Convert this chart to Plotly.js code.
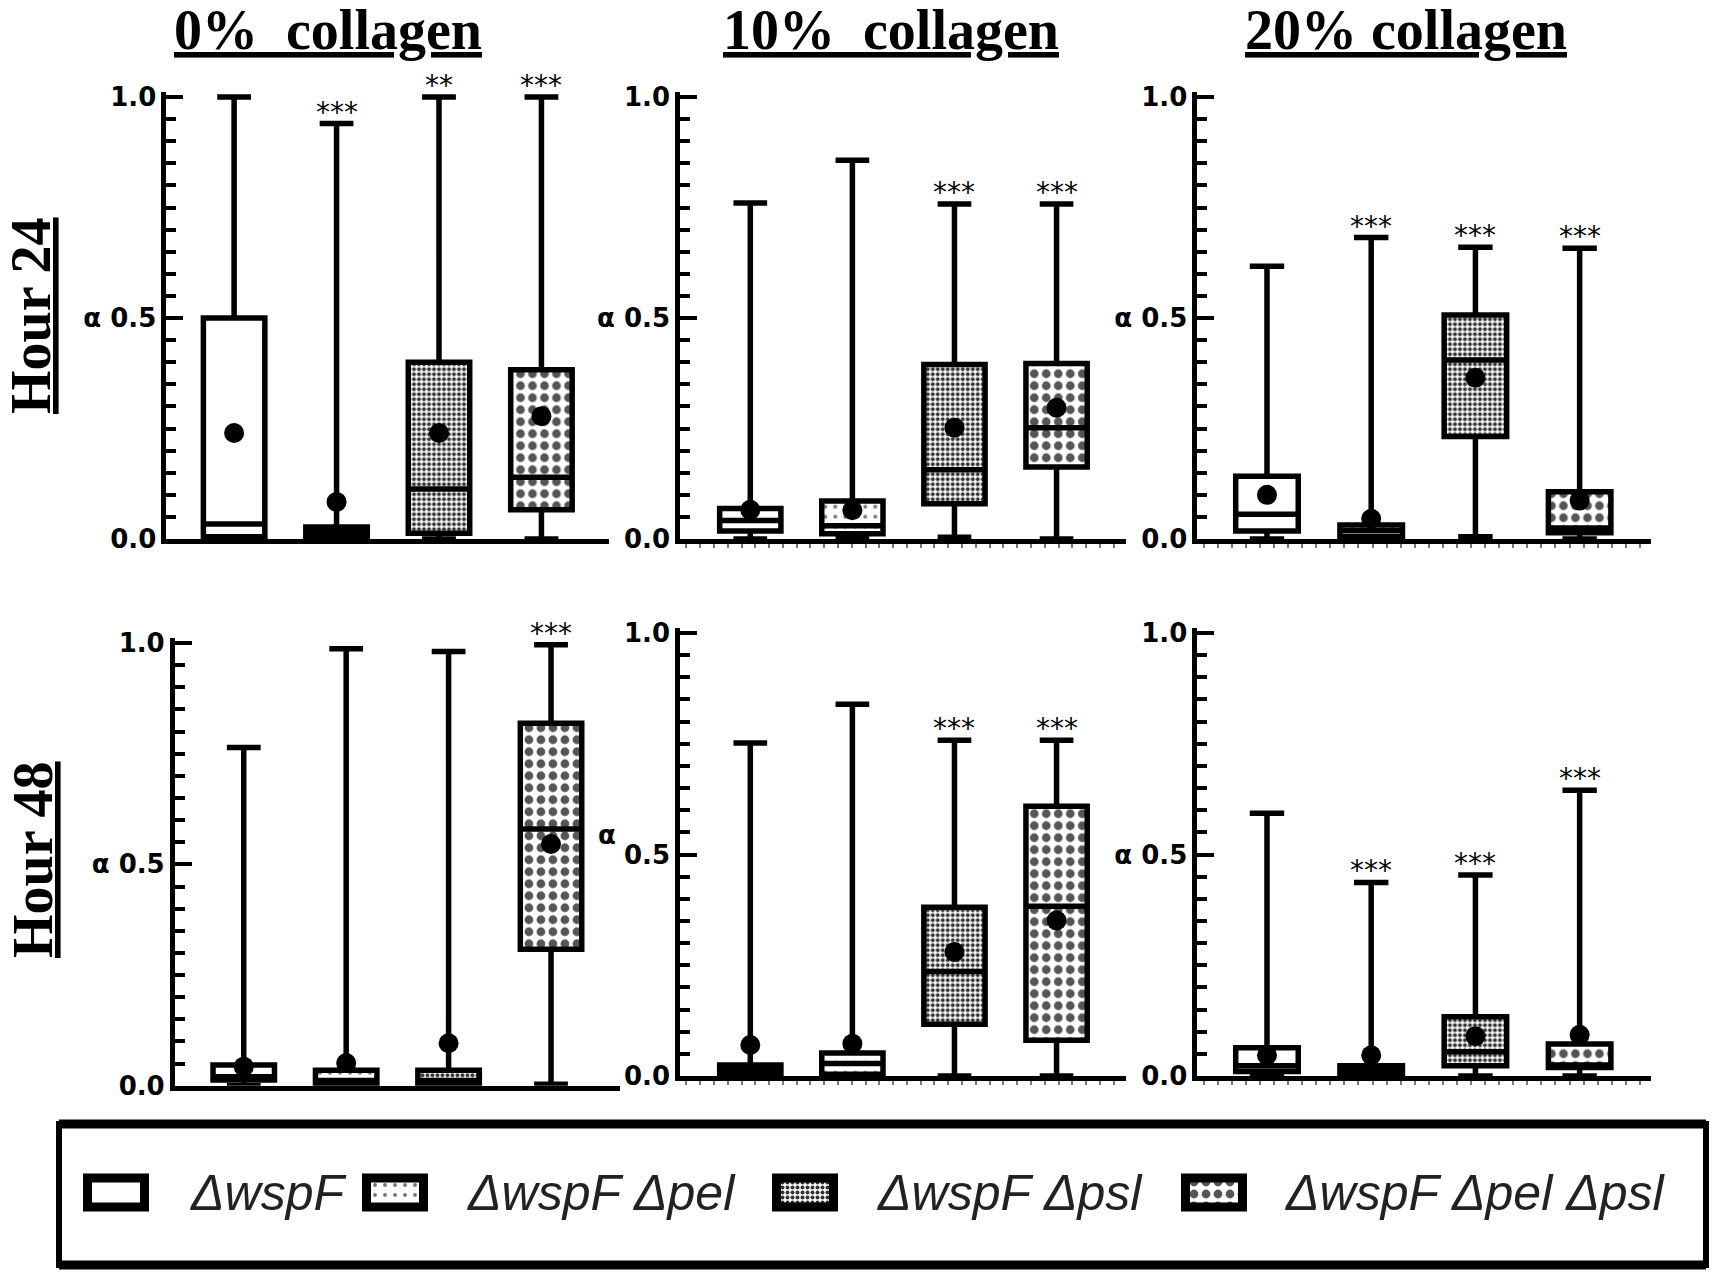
<!DOCTYPE html>
<html>
<head>
<meta charset="utf-8">
<script src="https://cdn.plot.ly/plotly-3.0.1.min.js"></script>
<style>
  html, body { margin: 0; padding: 0; background: #fff; }
  #chart { width: 1720px; height: 1274px; }
</style>
</head>
<body>
<div id="chart"></div>
<script>
// ---------------------------------------------------------------------------
// data (alpha values)
// ---------------------------------------------------------------------------
const strains = ['ΔwspF', 'ΔwspF Δpel', 'ΔwspF Δpsl', 'ΔwspF Δpel Δpsl'];
const collagenTitles = ['0%\u00a0 collagen', '10%\u00a0 collagen', '20% collagen'];
const hourLabels = ['Hour 24', 'Hour 48'];

// one row per panel: 24h 0%, 24h 10%, 24h 20%, 48h 0%, 48h 10%, 48h 20%
const lowerFence = [
    [0, 0, 0, 0],
    [0, 0, 0.004, 0],
    [0, 0, 0.005, 0],
    [0, 0, 0, 0.003],
    [0, 0, 0, 0],
    [0, 0, 0, 0]
];
const q1 = [
    [0.005, 0.004, 0.013, 0.066],
    [0.018, 0.012, 0.08, 0.163],
    [0.018, 0.005, 0.232, 0.014],
    [0.013, 0.005, 0.005, 0.308],
    [0.004, 0.004, 0.117, 0.081],
    [0.01, 0.003, 0.023, 0.019]
];
const median = [
    [0.034, 0.0155, 0.113, 0.14],
    [0.042, 0.03, 0.157, 0.252],
    [0.056, 0.0185, 0.405, 0.025],
    [0.02, 0.012, 0.012, 0.58],
    [0.0145, 0.028, 0.236, 0.383],
    [0.023, 0.013, 0.055, 0.025]
];
const q3 = [
    [0.5, 0.027, 0.40, 0.383],
    [0.069, 0.086, 0.395, 0.397],
    [0.142, 0.032, 0.507, 0.107],
    [0.047, 0.035, 0.035, 0.819],
    [0.025, 0.052, 0.381, 0.609],
    [0.064, 0.023, 0.134, 0.072]
];
const upperFence = [
    [1.0, 0.94, 1.0, 1.0],
    [0.76, 0.857, 0.758, 0.758],
    [0.617, 0.682, 0.66, 0.658],
    [0.764, 0.987, 0.981, 0.996],
    [0.752, 0.839, 0.758, 0.758],
    [0.593, 0.437, 0.454, 0.645]
];
const means = [
    [0.24, 0.084, 0.24, 0.278],
    [0.066, 0.065, 0.252, 0.297],
    [0.1, 0.046, 0.365, 0.087],
    [0.043, 0.051, 0.096, 0.546],
    [0.07, 0.073, 0.28, 0.351],
    [0.047, 0.047, 0.09, 0.093]
];
const stars = [
    ['', '***', '**', '***'],
    ['', '', '***', '***'],
    ['', '***', '***', '***'],
    ['', '', '', '***'],
    ['', '', '***', '***'],
    ['', '***', '***', '***']
];

// ---------------------------------------------------------------------------
// styles / geometry
// ---------------------------------------------------------------------------
const W = 1720, H = 1274;
const xDomains = [[0.0968, 0.3541], [0.3955, 0.6547], [0.6962, 0.9596],
                  [0.1017, 0.3605], [0.3955, 0.6547], [0.6962, 0.9596]];
const xRanges = [[-0.66, 3.66], [-0.686, 3.681], [-0.667, 3.68],
                 [-0.672, 3.674], [-0.686, 3.681], [-0.667, 3.68]];
const yDomains = [[0.5769, 0.9280], [0.5769, 0.9280], [0.5769, 0.9280],
                  [0.1478, 0.4994], [0.1554, 0.5073], [0.1554, 0.5073]];

const patShape = ['', '.', '.', '.'];
const patSize = [8, 10, 5, 12];
const patSolid = [0.1, 0.12, 0.5, 0.42];
const patFg = ['#ffffff', '#777777', '#333333', '#555555'];

const tickFont = { family: 'DejaVu Sans', size: 26, weight: 'bold', color: '#000' };
const serifBold = { family: 'Liberation Serif, Times New Roman, serif', size: 56, weight: 'bold', color: '#000', lineposition: 'under' };

const positions = strains.map((s, k) => k);
const traces = [];
const annotations = [];
const layout = {
    width: W,
    height: H,
    margin: { l: 0, r: 0, t: 0, b: 0 },
    paper_bgcolor: '#ffffff',
    plot_bgcolor: 'rgba(0,0,0,0)',
    showlegend: false,
    bargap: 0
};

for (let i = 0; i < 6; i++) {
    const xa = i === 0 ? 'x' : 'x' + (i + 1);
    const ya = i === 0 ? 'y' : 'y' + (i + 1);
    const xKey = i === 0 ? 'xaxis' : 'xaxis' + (i + 1);
    const yKey = i === 0 ? 'yaxis' : 'yaxis' + (i + 1);
    const dotted = (i % 3) !== 0;

    // patterned interior of each box
    traces.push({
        type: 'bar',
        x: positions,
        base: q1[i],
        y: q3[i].map((v, k) => v - q1[i][k]),
        width: 0.6,
        xaxis: xa, yaxis: ya,
        hoverinfo: 'skip',
        marker: {
            color: '#ffffff',
            line: { width: 0 },
            pattern: { shape: patShape, size: patSize, solidity: patSolid, fgcolor: patFg, bgcolor: '#ffffff', fillmode: 'replace' }
        }
    });

    // box + whiskers
    traces.push({
        type: 'box',
        x: positions,
        q1: q1[i],
        median: median[i],
        q3: q3[i],
        lowerfence: lowerFence[i],
        upperfence: upperFence[i],
        width: 0.6,
        whiskerwidth: 0.55,
        boxpoints: false,
        fillcolor: 'rgba(0,0,0,0)',
        line: { color: '#000', width: 5.5 },
        xaxis: xa, yaxis: ya,
        hoverinfo: 'skip'
    });

    // mean dots
    traces.push({
        type: 'scatter',
        mode: 'markers',
        x: positions,
        y: means[i],
        marker: { color: '#000', size: 20 },
        cliponaxis: false,
        xaxis: xa, yaxis: ya,
        hoverinfo: 'skip'
    });

    layout[xKey] = {
        domain: xDomains[i],
        range: xRanges[i],
        anchor: ya,
        showline: true,
        linecolor: '#000',
        linewidth: 5,
        showgrid: false,
        zeroline: false,
        ticks: '',
        showticklabels: false,
        fixedrange: true
    };
    if (dotted) {
        layout[xKey].minor = {
            ticks: 'outside', ticklen: 4, tickwidth: 2, tickcolor: '#777',
            tick0: xRanges[i][0] + 0.06, dtick: 0.135, showgrid: false
        };
    }

    layout[yKey] = {
        domain: yDomains[i],
        range: [0, 1.012],
        anchor: xa,
        showline: true,
        linecolor: '#000',
        linewidth: 5,
        showgrid: false,
        zeroline: false,
        tickmode: 'linear',
        tick0: 0,
        dtick: 0.5,
        tickformat: '.1f',
        labelalias: i === 4 ? {} : { '0.5': 'α 0.5' },
        ticks: 'inside',
        ticklen: 17,
        tickwidth: 4,
        tickcolor: '#000',
        tickfont: tickFont,
        minor: { ticks: 'inside', ticklen: 10, tickwidth: 4, tickcolor: '#000', tick0: 0, dtick: 0.05, showgrid: false },
        fixedrange: true
    };

    // significance stars
    stars[i].forEach((s, k) => {
        if (!s) return;
        annotations.push({
            xref: xa, yref: ya, x: k, y: upperFence[i][k],
            text: s, showarrow: false, yanchor: 'bottom', yshift: -7,
            font: { family: 'DejaVu Sans', size: 28, color: '#000' }
        });
    });
}

// column titles
const titleX = [328, 891, 1406];
collagenTitles.forEach((t, c) => {
    annotations.push({
        xref: 'paper', yref: 'paper', x: titleX[c] / W, y: 1, yshift: 3,
        text: t, showarrow: false, xanchor: 'center', yanchor: 'top',
        font: serifBold
    });
});

// row labels
const rowX = [31, 33];
const rowY = [316, 860];
hourLabels.forEach((t, r) => {
    annotations.push({
        xref: 'paper', yref: 'paper', x: rowX[r] / W, y: 1 - rowY[r] / H,
        text: t, showarrow: false, textangle: -90, xanchor: 'center', yanchor: 'middle',
        font: serifBold
    });
});

// the stray alpha in the 48 h / 10 % panel
annotations.push({
    xref: 'paper', yref: 'paper', x: 607 / W, y: 1 - 835 / H,
    text: 'α', showarrow: false, xanchor: 'center', yanchor: 'middle', font: tickFont
});

// ---------------------------------------------------------------------------
// legend (drawn by hand on a full-page pixel axis)
// ---------------------------------------------------------------------------
const keyCenters = [116, 395, 805, 1214];
const keyTextX = [188, 465, 875, 1283];
layout.xaxis7 = { domain: [0, 1], range: [0, W], visible: false, fixedrange: true, anchor: 'y7' };
layout.yaxis7 = { domain: [0, 1], range: [H, 0], visible: false, fixedrange: true, anchor: 'x7' };
traces.push({
    type: 'bar',
    x: keyCenters,
    base: keyCenters.map(() => 1178),
    y: keyCenters.map(() => 29),
    width: 57,
    xaxis: 'x7', yaxis: 'y7',
    hoverinfo: 'skip',
    marker: {
        color: '#ffffff',
        line: { color: '#000', width: 9 },
        pattern: { shape: patShape, size: patSize, solidity: patSolid, fgcolor: patFg, bgcolor: '#ffffff', fillmode: 'replace' }
    }
});
strains.forEach((s, k) => {
    annotations.push({
        xref: 'paper', yref: 'paper', x: keyTextX[k] / W, y: 1 - 1193 / H,
        text: s, showarrow: false, xanchor: 'left', yanchor: 'middle',
        font: { family: 'Liberation Sans, Arial, sans-serif', size: 50, style: 'italic', color: '#222' }
    });
});

layout.shapes = [
    { type: 'rect', xref: 'paper', yref: 'paper', x0: 59 / W, x1: 1706 / W, y0: 1 - 1265 / H, y1: 1 - 1124 / H,
      line: { color: '#000', width: 6 }, fillcolor: 'rgba(0,0,0,0)' },
    { type: 'line', xref: 'paper', yref: 'paper', x0: 59 / W, x1: 1706 / W, y0: 1 - 1124 / H, y1: 1 - 1124 / H,
      line: { color: '#000', width: 9 } },
    { type: 'line', xref: 'paper', yref: 'paper', x0: 59 / W, x1: 1706 / W, y0: 1 - 1265 / H, y1: 1 - 1265 / H,
      line: { color: '#000', width: 9 } }
];
layout.annotations = annotations;

Plotly.newPlot('chart', traces, layout, { staticPlot: true, displayModeBar: false });
</script>
</body>
</html>
